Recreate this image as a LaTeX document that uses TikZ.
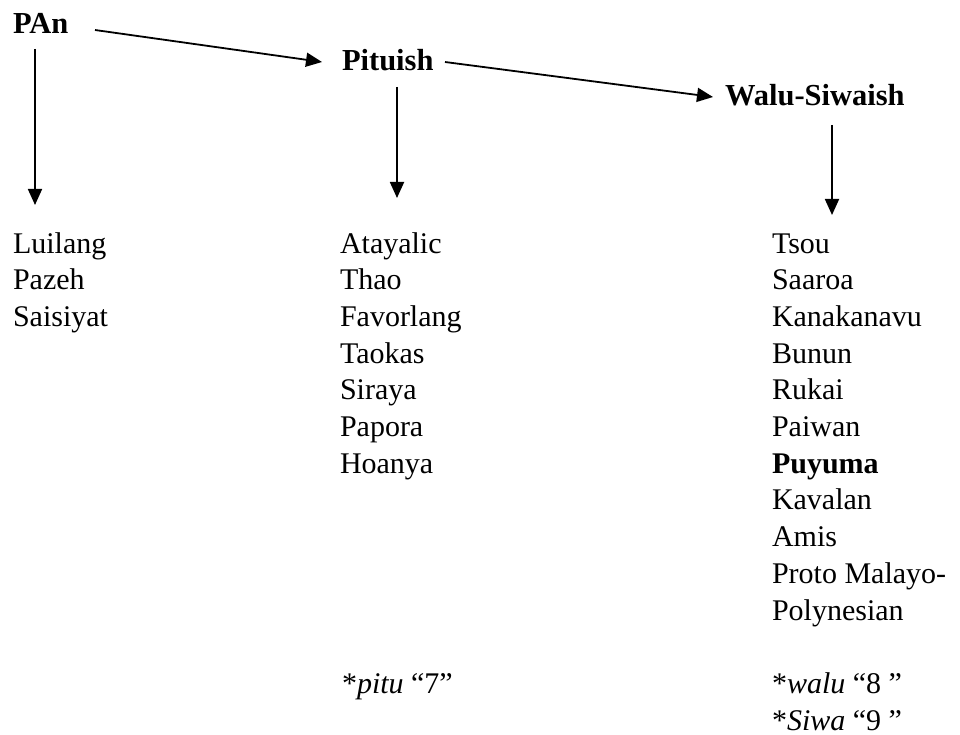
\documentclass[tikz,border=0pt]{standalone}
\usepackage{fontspec}
\setmainfont{Liberation Serif}
\usetikzlibrary{arrows.meta}
\begin{document}
\begin{tikzpicture}[x=1pt,y=-1pt,
  txt/.style={anchor=base west,inner sep=0pt,outer sep=0pt,font=\fontsize{30}{36.7}\selectfont},
  head/.style={txt,font=\fontsize{30.5}{36.7}\selectfont\bfseries},
  arr/.style={line width=1.8pt,-{Triangle[length=16pt,width=14pt]}}]
\useasboundingbox (0,0) rectangle (960,735);

% family labels
\node[head] (pan)  at (13,34)   {PAn};
\node[head] (pit)  at (342,71)  {Pituish};
\node[head] (walu) at (725,106) {Walu-Siwaish};

% member languages, one line each
\foreach \t [count=\i] in {Luilang,Pazeh,Saisiyat}
  \node[txt] (c1-\i) at (13,{253+(\i-1)*36.7}) {\t};
\foreach \t [count=\i] in {Atayalic,Thao,Favorlang,Taokas,Siraya,Papora,Hoanya}
  \node[txt] (c2-\i) at (340,{253+(\i-1)*36.7}) {\t};
\foreach \t [count=\i] in {Tsou,Saaroa,Kanakanavu,Bunun,Rukai,Paiwan,{\textbf{Puyuma}},Kavalan,Amis,Proto Malayo-,Polynesian}
  \node[txt] (c3-\i) at (772,{253+(\i-1)*36.7}) {\t};

% reconstructed numerals
\node[txt] (pitu) at (342,{253+12*36.7}) {*\textit{pitu} “7”};
\node[txt] (w8)   at (772,{253+12*36.7}) {*\textit{walu} “8 ”};
\node[txt] (s9)   at (772,{253+13*36.7}) {*\textit{Siwa} “9 ”};

% branches
\draw[arr] ([shift={(82,-4)}]pan.base west) -- ([shift={(-20,-9)}]pit.base west);
\draw[arr] ([shift={(103,-9)}]pit.base west) -- ([shift={(-12,-9)}]walu.base west);
\draw[arr] ([shift={(22,15)}]pan.base west) -- ([shift={(22,-48)}]c1-1.base west);
\draw[arr] ([shift={(55,16)}]pit.base west) -- ([shift={(57,-55)}]c2-1.base west);
\draw[arr] ([shift={(107,19)}]walu.base west) -- ([shift={(60,-38)}]c3-1.base west);
\end{tikzpicture}
\end{document}
